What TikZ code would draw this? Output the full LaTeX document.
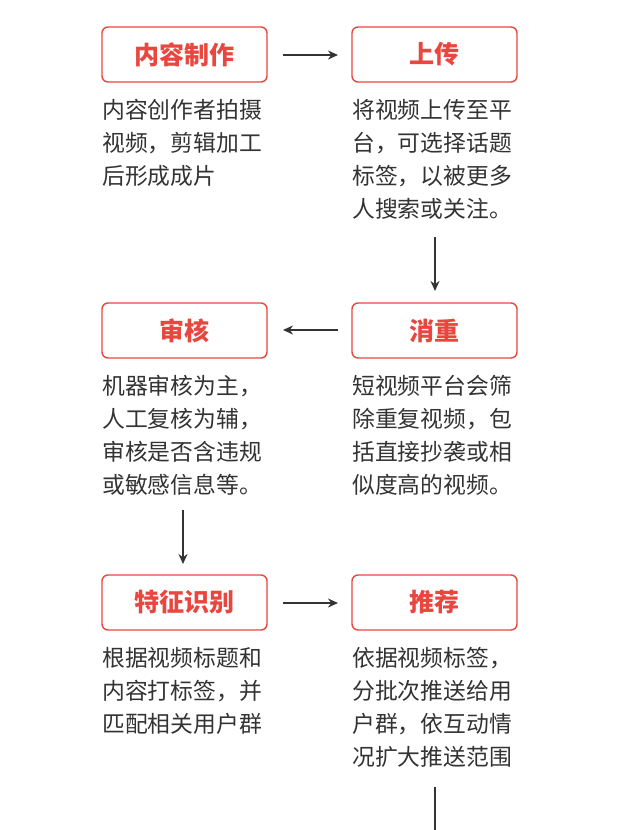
\documentclass[tikz,border=0pt]{standalone}
\usepackage{fontspec}
\setmainfont{Noto Sans CJK SC}
\usetikzlibrary{positioning,arrows.meta}
\definecolor{stepred}{HTML}{E8473F}
\definecolor{bodytext}{HTML}{333333}
\begin{document}
\begin{tikzpicture}[x=1pt,y=-1pt,
  stepbox/.style = {draw=stepred, line width=1.4pt, rounded corners=6pt, minimum width=165pt, minimum height=55pt, text=stepred, font=\fontsize{25}{28}\selectfont\bfseries},
  desc/.style = {anchor=north west, align=left, inner sep=0pt, text=bodytext, font=\fontsize{22.8}{33}\selectfont},
  flow/.style = {-{Stealth[length=10pt,width=9pt]}, line width=1.6pt, draw=bodytext}]
\useasboundingbox (0,0) rectangle (630,830);
\node[stepbox] (1) at (184.5,54.5) {内容制作};
\node[stepbox] (2) at (434.5,54.5) {上传};
\node[stepbox] (3) at (184.5,330.5) {审核};
\node[stepbox] (4) at (434.5,330.5) {消重};
\node[stepbox] (5) at (184.5,602.5) {特征识别};
\node[stepbox] (6) at (434.5,602.5) {推荐};

\node[desc] (d1) at (102,99) {内容创作者拍摄\\视频，剪辑加工\\后形成成片};
\node[desc] (d2) at (352,99) {将视频上传至平\\台，可选择话题\\标签，以被更多\\人搜索或关注。};
\node[desc] (d3) at (102,375) {机器审核为主，\\人工复核为辅，\\审核是否含违规\\或敏感信息等。};
\node[desc] (d4) at (352,375) {短视频平台会筛\\除重复视频，包\\括直接抄袭或相\\似度高的视频。};
\node[desc] (d5) at (102,647) {根据视频标题和\\内容打标签，并\\匹配相关用户群};
\node[desc] (d6) at (352,647) {依据视频标签，\\分批次推送给用\\户群，依互动情\\况扩大推送范围};

\coordinate (c1) at (283,55);  \coordinate (c2) at (338,55);
\coordinate (c3) at (435,237); \coordinate (c4) at (435,291);
\coordinate (c5) at (338,330); \coordinate (c6) at (283,330);
\coordinate (c7) at (183,510); \coordinate (c8) at (183,564);
\coordinate (c9) at (283,603); \coordinate (c10) at (338,603);
\coordinate (c11) at (435,787); \coordinate (c12) at (435,845);

\draw[flow] (c1) -- (c2);
\draw[flow] (c3) -- (c4);
\draw[flow] (c5) -- (c6);
\draw[flow] (c7) -- (c8);
\draw[flow] (c9) -- (c10);
\draw[flow] (c11) -- (c12);
\end{tikzpicture}
\end{document}
